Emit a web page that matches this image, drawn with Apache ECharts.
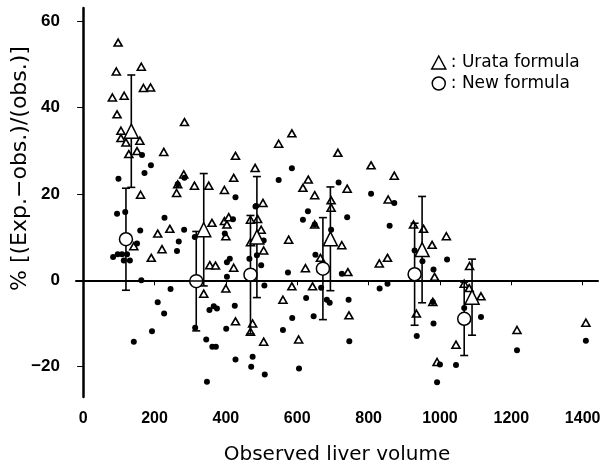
<!DOCTYPE html>
<html>
<head>
<meta charset="utf-8">
<script src="https://cdn.jsdelivr.net/npm/echarts@6/dist/echarts.min.js"></script>
<style>
  html, body { margin: 0; padding: 0; background: #fff; }
  #chart { width: 611px; height: 468px; }
</style>
</head>
<body>
<div id="chart"></div>
<script>
  // tick labels
  const xTicks = [0, 200, 400, 600, 800, 1000, 1200, 1400]
  const yTicks = [-20, 0, 20, 40, 60]

  // individual patients, Urata formula: [observed volume, % error]
  const urataPoints = [
    [98, 55.0], [93, 48.3], [163, 49.4], [169, 44.5], [189, 44.6], [82, 42.3], [115, 42.7],
    [95, 38.4], [106, 34.6], [106, 32.9], [120, 31.9], [159, 32.3], [128, 29.2], [151, 29.9],
    [226, 29.7], [284, 36.6], [427, 28.8], [422, 23.7], [482, 26.0], [282, 24.5], [312, 21.9],
    [352, 21.9], [396, 20.9], [262, 20.2], [161, 19.8], [265, 22.2], [209, 10.8], [243, 11.9],
    [142, 7.9], [221, 7.2], [191, 5.2], [361, 13.3], [396, 13.7], [403, 12.9], [408, 14.6],
    [400, 10.2], [355, 3.5], [371, 3.4], [422, 2.9], [338, -3.1], [400, -1.9], [427, -9.5],
    [469, 14.0], [469, 8.8], [475, -10.0], [469, -11.9], [548, 31.6], [585, 34.0], [714, 29.5],
    [807, 26.6], [872, 24.2], [631, 23.3], [616, 21.4], [649, 19.7], [740, 21.2], [855, 18.7],
    [504, 17.9], [499, 11.7], [506, 6.9], [576, 9.4], [649, 12.9], [695, 18.5], [695, 16.8],
    [725, 8.1], [623, 2.8], [665, 5.2], [742, 1.9], [830, 3.9], [853, 5.2], [926, 12.9],
    [954, 11.9], [978, 8.2], [1018, 10.2], [985, 0.8], [489, 14.2], [585, -1.4], [643, -1.4],
    [560, -4.5], [745, -8.1], [506, -14.2], [604, -13.7], [934, -7.7], [992, -18.9], [980, -5.0],
    [1083, 3.3], [1068, -0.8], [1082, -1.8], [1115, -3.7], [1045, -14.9], [1216, -11.5], [1409, -9.8]
  ]

  // individual patients, new formula
  const newPoints = [
    [165, 29.0], [190, 26.6], [172, 24.8], [99, 23.5], [284, 23.7], [427, 19.2], [95, 15.4],
    [118, 15.8], [160, 11.5], [151, 8.5], [84, 5.4], [97, 6.0], [109, 6.0], [123, 6.0],
    [114, 4.6], [131, 4.6], [163, 0], [228, 14.5], [283, 11.7], [268, 9.0], [263, 6.8],
    [245, -2.0], [209, -5.1], [227, -7.7], [193, -11.8], [142, -14.2], [314, -11.0], [345, -13.7],
    [362, -15.4], [372, -15.4], [347, -23.5], [354, -6.9], [366, -6.0], [375, -6.5], [313, 10.0],
    [397, 10.8], [420, 14.1], [403, 0.8], [403, 4.2], [411, 5.0], [425, -5.9], [401, -11.2],
    [427, -18.3], [475, -17.7], [471, -20.0], [485, 17.2], [466, 5.0], [585, 25.9], [548, 23.2],
    [716, 22.6], [807, 20.0], [872, 17.9], [483, 17.1], [630, 16.0], [616, 14.0], [740, 14.6],
    [695, 11.7], [859, 12.6], [487, 5.8], [499, 3.5], [506, 9.2], [651, 5.9], [574, 1.8],
    [725, 1.5], [929, 6.9], [951, 4.4], [982, 2.5], [1020, 4.8], [508, -1.2], [667, -1.7],
    [625, -4.1], [683, -4.5], [691, -5.2], [744, -4.5], [831, -1.9], [853, -0.8], [980, -5.0],
    [586, -8.7], [646, -8.3], [560, -11.5], [746, -14.1], [935, -12.9], [982, -10.0], [509, -21.8],
    [605, -20.4], [992, -23.6], [1000, -19.5], [1068, -6.4], [1115, -8.5], [1045, -19.6],
    [1216, -16.2], [1409, -14.0], [649, 12.9], [265, 22.2]
  ]

  // group means: [x, mean, sd]
  const urataMeans = [[135, 34.5, 13], [338, 11.7, 13], [487, 10.0, 14], [693, 9.6, 12], [950, 7.1, 12.3], [1090, -3.9, 8.8]]
  const newMeans = [[120, 9.5, 11.8], [317, -0.2, 11.5], [469, 1.3, 13.7], [672, 2.7, 11.8], [929, 1.4, 11.8], [1068, -8.9, 8.5]]

  const tickFont = 'Liberation Sans'
  const textFont = 'DejaVu Sans'

  function errorBars(means) {
    return {
      type: 'custom',
      silent: true,
      z: 3,
      data: means.map(d => [d[0], d[1] - d[2], d[1] + d[2]]),
      encode: { x: 0, y: [1, 2] },
      renderItem: function (params, api) {
        const x = api.value(0)
        const lo = api.coord([x, api.value(1)])
        const hi = api.coord([x, api.value(2)])
        const w = 4
        const style = { stroke: '#000', lineWidth: 1.6 }
        return {
          type: 'group',
          children: [
            { type: 'line', shape: { x1: lo[0], y1: lo[1], x2: hi[0], y2: hi[1] }, style: style },
            { type: 'line', shape: { x1: lo[0] - w, y1: lo[1], x2: lo[0] + w, y2: lo[1] }, style: style },
            { type: 'line', shape: { x1: hi[0] - w, y1: hi[1], x2: hi[0] + w, y2: hi[1] }, style: style }
          ]
        }
      }
    }
  }

  const myChart = echarts.init(document.getElementById('chart'))
  myChart.setOption({
    animation: false,
    backgroundColor: '#fff',
    grid: { left: 76, right: 13, top: 8, bottom: 71, outerBoundsMode: 'none' },
    legend: {
      orient: 'vertical',
      left: 426,
      top: 49,
      itemWidth: 14,
      itemHeight: 13,
      itemGap: 4,
      selectedMode: false,
      formatter: ': {name}',
      textStyle: { fontFamily: textFont, fontSize: 17, color: '#000' },
      data: [
        { name: 'Urata formula', icon: 'triangle', itemStyle: { color: '#fff', borderColor: '#000', borderWidth: 1.5 } },
        { name: 'New formula', icon: 'circle', itemStyle: { color: '#fff', borderColor: '#000', borderWidth: 1.5 } }
      ]
    },
    xAxis: {
      type: 'value',
      min: -20,
      max: 1443,
      name: 'Observed liver volume',
      nameLocation: 'middle',
      nameGap: 48,
      nameMoveOverlap: false,
      nameTextStyle: { fontFamily: textFont, fontSize: 20, color: '#000' },
      axisLine: { lineStyle: { color: '#000', width: 2 } },
      axisTick: { customValues: xTicks, length: 5, lineStyle: { color: '#000', width: 1 } },
      axisLabel: {
        customValues: xTicks,
        margin: 14,
        fontFamily: tickFont,
        fontWeight: 'bold',
        fontSize: 16,
        color: '#000',
        formatter: v => String(v)
      },
      splitLine: { show: false }
    },
    yAxis: {
      type: 'value',
      min: -27,
      max: 63,
      name: '% [(Exp.\u2212obs.)/(obs.)]',
      nameLocation: 'middle',
      nameGap: 45,
      nameMoveOverlap: false,
      nameRotate: 90,
      nameTextStyle: { fontFamily: textFont, fontSize: 22, color: '#000', padding: [0, 0, 0, 68] },
      axisLine: { lineStyle: { color: '#000', width: 2.5 } },
      axisTick: { customValues: yTicks, length: 6, lineStyle: { color: '#000', width: 1 } },
      axisLabel: {
        customValues: yTicks,
        margin: 16,
        fontFamily: tickFont,
        fontWeight: 'bold',
        fontSize: 17,
        color: '#000',
        formatter: v => String(v).replace('-', '\u2212')
      },
      splitLine: { show: false }
    },
    series: [
      {
        name: 'Urata points',
        type: 'scatter',
        silent: true,
        symbol: 'triangle',
        symbolSize: [8, 7],
        itemStyle: { color: '#fff', borderColor: '#000', borderWidth: 1.6, opacity: 1 },
        data: urataPoints,
        markLine: {
          silent: true,
          symbol: ['none', 'none'],
          label: { show: false },
          lineStyle: { color: '#000', width: 1.5, type: 'solid' },
          data: [{ yAxis: 0 }]
        },
        z: 2
      },
      {
        name: 'New points',
        type: 'scatter',
        silent: true,
        symbol: 'circle',
        symbolSize: 6,
        itemStyle: { color: '#000', opacity: 1 },
        data: newPoints,
        z: 2
      },
      errorBars(urataMeans),
      errorBars(newMeans),
      {
        name: 'Urata formula',
        type: 'scatter',
        silent: true,
        symbol: 'triangle',
        symbolSize: 14,
        itemStyle: { color: '#fff', borderColor: '#000', borderWidth: 1.5, opacity: 1 },
        data: urataMeans.map(d => [d[0], d[1]]),
        z: 4
      },
      {
        name: 'New formula',
        type: 'scatter',
        silent: true,
        symbol: 'circle',
        symbolSize: 13,
        itemStyle: { color: '#fff', borderColor: '#000', borderWidth: 1.5, opacity: 1 },
        data: newMeans.map(d => [d[0], d[1]]),
        z: 4
      }
    ]
  })
</script>
</body>
</html>
